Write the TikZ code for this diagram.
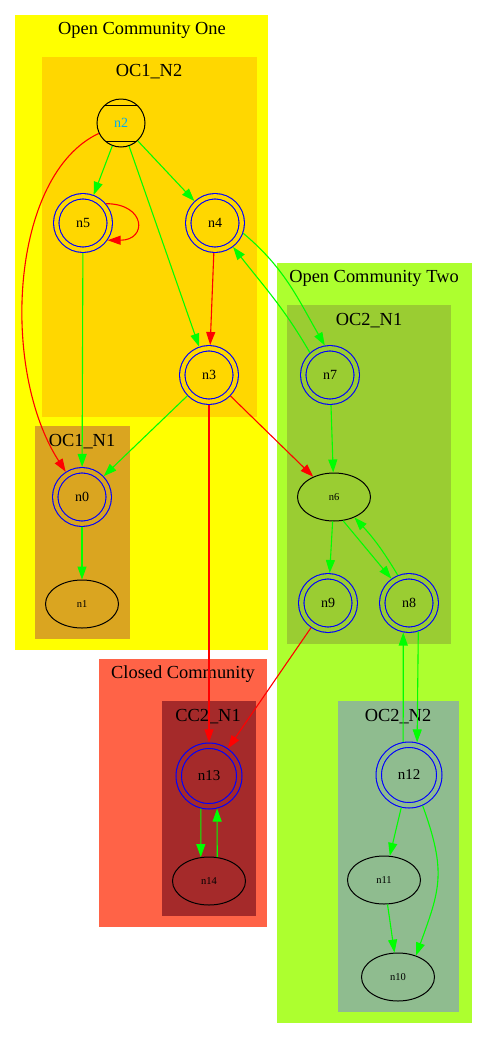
\documentclass[tikz,border=0pt]{standalone}
\usepackage{fontspec}
\setmainfont{Liberation Serif}
\usetikzlibrary{arrows.meta,shapes.geometric}
\definecolor{ocone}{HTML}{FFFF00}
\definecolor{ocnodetwo}{HTML}{FFD700}
\definecolor{ocnodeone}{HTML}{DAA520}
\definecolor{octwo}{HTML}{ADFF2F}
\definecolor{octwonodeone}{HTML}{9ACD32}
\definecolor{octwonodetwo}{HTML}{8FBC8F}
\definecolor{cc}{HTML}{FF6347}
\definecolor{ccnode}{HTML}{A52A2A}
\begin{document}
\begin{tikzpicture}[x=1pt,y=1pt,
    dbl/.style={circle, draw=blue, line width=1.1pt, double=#1, double distance=4.3pt,
      minimum size=53.5pt, inner sep=0pt, outer sep=3.3pt, font=\fontsize{14}{16}\selectfont},
    dblbig/.style={dbl=#1, minimum size=60.5pt, font=\fontsize{15}{17}\selectfont},
    oval/.style={ellipse, draw, line width=1pt, minimum width=73pt, minimum height=48pt,
      inner sep=0pt, font=\fontsize{10.5}{12}\selectfont},
    mcirc/.style={circle, draw, line width=1pt, minimum size=48pt, inner sep=0pt,
      font=\fontsize{14}{16}\selectfont, text=cyan,
      path picture={\draw[line width=1pt]
        ([yshift=-6pt]path picture bounding box.north west) -- ([yshift=-6pt]path picture bounding box.north east)
        ([yshift=6pt]path picture bounding box.south west) -- ([yshift=6pt]path picture bounding box.south east);}},
    lbl/.style={font=\fontsize{18.4}{20}\selectfont},
    grnedge/.style={green, line width=1.1pt, -{Triangle[length=13pt,width=9pt]}},
    rededge/.style={red, line width=1.1pt, -{Triangle[length=13pt,width=9pt]}}]
  \useasboundingbox (0,0) rectangle (488,-1039);
  % clusters
  \fill[ocone] (15,-15) rectangle (268,-650);
  \fill[ocnodetwo] (42,-57) rectangle (257,-417);
  \fill[ocnodeone] (35,-426) rectangle (130,-639);
  \fill[octwo] (277,-263) rectangle (472,-1023);
  \fill[octwonodeone] (287,-305) rectangle (451,-644);
  \fill[octwonodetwo] (338,-701) rectangle (459,-1012);
  \fill[cc] (99,-659) rectangle (267,-927);
  \fill[ccnode] (162,-701) rectangle (256,-916);
  \draw
    (142,-30) node[lbl] (lone){Open Community One}
    (149,-72) node[lbl] (lonetwo){OC1\_N2}
    (82,-442) node[lbl] (loneone){OC1\_N1}
    (374,-278) node[lbl] (ltwo){Open Community Two}
    (369,-321) node[lbl] (ltwoone){OC2\_N1}
    (398,-717) node[lbl] (ltwotwo){OC2\_N2}
    (183,-674) node[lbl] (lcc){Closed Community}
    (208,-717) node[lbl] (lccone){CC2\_N1};
  % nodes
  \draw
    (121,-123) node[mcirc] (n2){n2}
    (83,-223) node[dbl=ocnodetwo] (n5){n5}
    (215,-223) node[dbl=ocnodetwo] (n4){n4}
    (209,-375) node[dbl=ocnodetwo] (n3){n3}
    (82,-497) node[dbl=ocnodeone] (n0){n0}
    (82,-604) node[oval] (n1){n1}
    (330,-375) node[dbl=octwonodeone] (n7){n7}
    (334,-497) node[oval] (n6){n6}
    (328,-603) node[dbl=octwonodeone] (n9){n9}
    (409,-603) node[dbl=octwonodeone] (n8){n8}
    (409,-775) node[dblbig=octwonodetwo] (n12){n12}
    (384,-880) node[oval] (n11){n11}
    (398,-977) node[oval] (n10){n10}
    (209,-776) node[dblbig=ccnode] (n13){n13}
    (209,-881) node[oval] (n14){n14};
  \begin{scope}[grnedge]
    \draw (n2) -- (n5);
    \draw (n2) -- (n4);
    \draw (n2) -- (n3);
    \draw (n5) -- (n0);
    \draw (n3) -- (n0);
    \draw (n0) -- (n1);
    \draw (n4.-20) to[out=-40,in=120] (n7.100);
    \draw (n7.132) to[out=120,in=-52] (n4.-53);
    \draw (n7) -- (n6);
    \draw (n6) -- (n9);
    \draw (n6.-69) -- (n8.126);
    \draw (n8.112) to[bend right=6] (n6.-45);
    \draw (n8.-72) -- (n12.76);
    \draw (n12.100) -- (n8.-101);
    \draw (n13.-104) -- (n14.109);
    \draw (n14.71) -- (n13.-76);
    \draw (n12) -- (n11);
    \draw (n11) -- (n10);
    \draw (n12.-66) to[out=-70,in=70,looseness=1.2] (n10.50);
  \end{scope}
  \begin{scope}[rededge]
    \draw (n2) .. controls (10,-175) and (0,-370) .. (n0);
    \draw (n5.40) .. controls +(40,0) and +(40,0) .. (n5.-35);
    \draw (n4) -- (n3);
    \draw (n3) -- (n6);
    \draw (n3) -- (n13);
    \draw (n9) -- (n13);
  \end{scope}
\end{tikzpicture}
\end{document}
